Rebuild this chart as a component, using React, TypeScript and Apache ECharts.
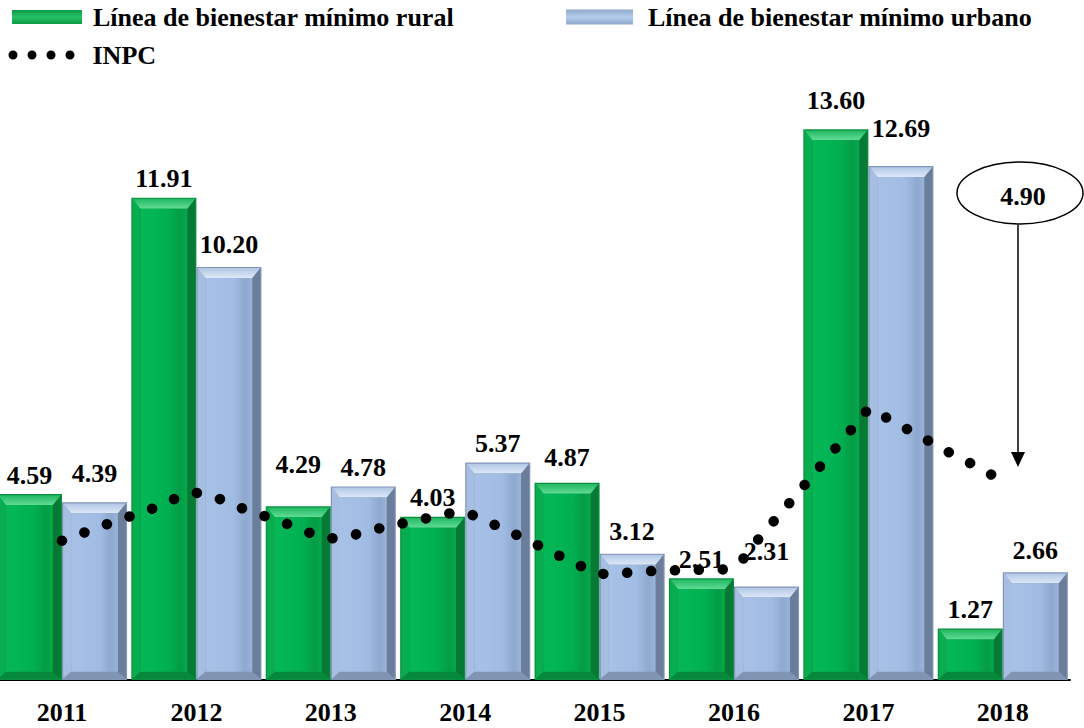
import React, { useEffect, useRef } from 'react';
import * as echarts from 'echarts';

// ---------- data ----------
const years = ['2011', '2012', '2013', '2014', '2015', '2016', '2017', '2018'];
const rural = [4.59, 11.91, 4.29, 4.03, 4.87, 2.51, 13.6, 1.27];
const urbano = [4.39, 10.2, 4.78, 5.37, 3.12, 2.31, 12.69, 2.66];
// INPC curve: time (fractional year) and value
const inpcTime = [
  2011.0, 2011.33, 2011.67, 2012.0, 2012.34, 2012.67, 2013.01, 2013.37, 2013.71, 2013.96,
  2014.22, 2014.54, 2014.87, 2015.03, 2015.39, 2015.74, 2015.92, 2016.07, 2016.18, 2016.41,
  2016.64, 2016.87, 2016.98, 2017.06, 2017.14, 2017.29, 2017.45, 2017.6, 2017.76, 2017.92,
];
const inpcValue = [
  3.44, 3.84, 4.23, 4.62, 4.24, 3.86, 3.5, 3.75, 3.99, 4.14,
  3.83, 3.33, 2.8, 2.62, 2.69, 2.72, 2.73, 3.0, 3.47, 4.36,
  5.27, 6.17, 6.62, 6.69, 6.46, 6.19, 5.9, 5.62, 5.35, 5.06,
];
const inpcLatest = '4.90';
const names = {
  rural: 'Línea de bienestar mínimo rural',
  urbano: 'Línea de bienestar mínimo urbano',
  inpc: 'INPC',
};

// ---------- styles ----------
const SHIFT = 6; // container is shifted left so the first bar is cut by the page edge
const FONT = '"Liberation Serif", "Times New Roman", serif';
const LABEL_FONT = `bold 26px ${FONT}`;
const labelLift: Record<string, Record<number, number>> = {
  rural: { 2: 23, 4: 6, 6: 10 },
  urbano: { 0: 10, 1: 3, 4: 3, 5: 16, 6: 19, 7: 3 },
};

const G = echarts.graphic;
const greenPal = {
  edge: '#0a8f40',
  top: new G.LinearGradient(0, 0, 0, 1, [
    { offset: 0, color: '#22b862' },
    { offset: 1, color: '#62dc96' },
  ]),
  left: '#07ad4e',
  right: '#067a35',
  bottom: '#07893c',
  face: new G.LinearGradient(0, 0, 1, 0, [
    { offset: 0, color: '#05b857' },
    { offset: 0.6, color: '#00b050' },
    { offset: 0.85, color: '#049c46' },
    { offset: 1, color: '#05a84b' },
  ]),
};
const bluePal = {
  edge: '#8196b6',
  top: new G.LinearGradient(0, 0, 0, 1, [
    { offset: 0, color: '#b2c7e6' },
    { offset: 1, color: '#dde8f7' },
  ]),
  left: '#a6bee2',
  right: '#6a7d9a',
  bottom: '#8195b3',
  face: new G.LinearGradient(0, 0, 1, 0, [
    { offset: 0, color: '#a7c1e6' },
    { offset: 0.6, color: '#a1bce3' },
    { offset: 0.85, color: '#8fa8cd' },
    { offset: 1, color: '#9ab3da' },
  ]),
};

function bevelRender(side: number, pal: any, key: string) {
  return function (params: any, api: any) {
    const i = api.value(0);
    const v = api.value(1);
    const base = api.coord([i, 0]);
    const topPt = api.coord([i, v]);
    const band = api.size([1, 0])[0];
    const w = band * 0.484;
    const x0 = side < 0 ? base[0] - w : base[0];
    const x1 = x0 + w;
    const y0 = topPt[1];
    const y1 = base[1];
    const h = y1 - y0;
    const e = 1.2;
    const b = 8;
    const bt = Math.min(11, h * 0.35);
    const bb = Math.min(7, h * 0.2);
    const ax = x0 + e, bx = x1 - e, ay = y0 + e, by = y1 - e;
    const ix0 = ax + b, ix1 = bx - b, iy0 = y0 + bt, iy1 = by - bb;
    const lift = (labelLift[key] && labelLift[key][i]) || 0;
    return {
      type: 'group',
      children: [
        { type: 'rect', shape: { x: x0, y: y0, width: w, height: h }, style: { fill: pal.edge } },
        { type: 'polygon', shape: { points: [[ax, ay], [ix0, iy0], [ix0, iy1], [ax, by]] }, style: { fill: pal.left } },
        { type: 'polygon', shape: { points: [[bx, ay], [bx, by], [ix1, iy1], [ix1, iy0]] }, style: { fill: pal.right } },
        { type: 'polygon', shape: { points: [[ax, by], [bx, by], [ix1, iy1], [ix0, iy1]] }, style: { fill: pal.bottom } },
        { type: 'polygon', shape: { points: [[ax, ay], [bx, ay], [ix1, iy0], [ix0, iy0]] }, style: { fill: pal.top } },
        { type: 'rect', shape: { x: ix0, y: iy0, width: ix1 - ix0, height: Math.max(0, iy1 - iy0) }, style: { fill: pal.face } },
        {
          type: 'text',
          x: (x0 + x1) / 2,
          y: y0 - 10 - lift - 9,
          style: {
            text: Number(v).toFixed(2),
            font: LABEL_FONT,
            fill: '#000',
            align: 'center',
            verticalAlign: 'middle',
          },
        },
      ],
    };
  };
}

const dotsIcon =
  'path://' +
  [0, 19, 38, 57]
    .map((x) => `M${x},4.5a4.5,4.5 0 1,0 9,0a4.5,4.5 0 1,0 -9,0z`)
    .join(' ');

const legendText = {
  fontFamily: FONT,
  fontWeight: 'bold' as const,
  fontSize: 26,
  color: '#000',
};

function buildOption(): any {
  return {
    animation: false,
    backgroundColor: '#fff',
    grid: { left: 0.8, right: 14, top: 32, bottom: 48, containLabel: false },
    legend: [
      {
        data: [names.rural],
        left: 12 + SHIFT,
        top: 4,
        padding: 0,
        selectedMode: false,
        icon: 'rect',
        itemWidth: 70,
        itemHeight: 14,
        itemStyle: {
          borderWidth: 0,
          color: new G.LinearGradient(0, 0, 0, 1, [
            { offset: 0, color: '#0b9a47' },
            { offset: 0.5, color: '#27c266' },
            { offset: 1, color: '#0b9a47' },
          ]),
        },
        textStyle: { ...legendText, padding: [0, 0, 0, 6] },
      },
      {
        data: [names.urbano],
        left: 566 + SHIFT,
        top: 4,
        padding: 0,
        selectedMode: false,
        icon: 'rect',
        itemWidth: 67,
        itemHeight: 15,
        itemStyle: {
          borderWidth: 0,
          color: new G.LinearGradient(0, 0, 0, 1, [
            { offset: 0, color: '#8ea8cc' },
            { offset: 0.5, color: '#b6cdeb' },
            { offset: 1, color: '#8ea8cc' },
          ]),
        },
        textStyle: { ...legendText, padding: [0, 0, 0, 10] },
      },
      {
        data: [names.inpc],
        left: 8.5 + SHIFT,
        top: 42,
        padding: 0,
        selectedMode: false,
        icon: dotsIcon,
        itemWidth: 66,
        itemHeight: 9,
        itemStyle: { color: '#000', borderWidth: 0 },
        textStyle: { ...legendText, padding: [0, 0, 0, 13] },
      },
    ],
    xAxis: [
      {
        type: 'category',
        data: years,
        axisTick: { show: false },
        axisLine: { show: true, lineStyle: { color: '#000', width: 2 } },
        axisLabel: {
          color: '#000',
          fontFamily: FONT,
          fontWeight: 'bold',
          fontSize: 26,
          margin: 19,
        },
        splitLine: { show: false },
      },
      { type: 'value', min: 2010.5, max: 2018.5, show: false },
    ],
    yAxis: { type: 'value', min: 0, max: 16, show: false, splitLine: { show: false } },
    series: [
      {
        name: names.rural,
        type: 'custom',
        xAxisIndex: 0,
        itemStyle: { color: '#00b050' },
        renderItem: bevelRender(-1, greenPal, 'rural'),
        encode: { x: 0, y: 1 },
        data: rural.map((v, i) => [i, v]),
        z: 2,
      },
      {
        name: names.urbano,
        type: 'custom',
        xAxisIndex: 0,
        itemStyle: { color: '#a2bde3' },
        renderItem: bevelRender(1, bluePal, 'urbano'),
        encode: { x: 0, y: 1 },
        data: urbano.map((v, i) => [i, v]),
        z: 2,
      },
      {
        name: names.inpc,
        type: 'line',
        xAxisIndex: 1,
        data: inpcTime.map((t, i) => [t, inpcValue[i]]),
        smooth: 0.3,
        showSymbol: false,
        symbol: 'none',
        color: '#000',
        lineStyle: { color: '#000', width: 10.5, type: [0.1, 23.8], cap: 'round' },
        z: 5,
        silent: true,
      },
    ],
    graphic: [
      {
        type: 'ellipse',
        shape: { cx: 1020 + SHIFT, cy: 193, rx: 63, ry: 31 },
        style: { fill: '#fff', stroke: '#000', lineWidth: 1.5 },
        z: 10,
      },
      {
        type: 'text',
        x: 1023 + SHIFT,
        y: 196,
        style: {
          text: inpcLatest,
          font: LABEL_FONT,
          fill: '#000',
          align: 'center',
          verticalAlign: 'middle',
          textAlign: 'center',
          textVerticalAlign: 'middle',
        },
        z: 11,
      },
      {
        type: 'line',
        shape: { x1: 1018 + SHIFT, y1: 225, x2: 1018 + SHIFT, y2: 455 },
        style: { stroke: '#000', lineWidth: 1.5 },
        z: 10,
      },
      {
        type: 'polygon',
        shape: { points: [[1011 + SHIFT, 452], [1025 + SHIFT, 452], [1018 + SHIFT, 467]] },
        style: { fill: '#000' },
        z: 10,
      },
    ],
  };
}

export default function App() {
  const ref = useRef<HTMLDivElement>(null);
  useEffect(() => {
    if (!ref.current) return;
    const chart = echarts.init(ref.current, null, { renderer: 'svg' });
    chart.setOption(buildOption());
    return () => chart.dispose();
  }, []);
  return (
    <div
      ref={ref}
      style={{ position: 'absolute', left: -SHIFT, top: 0, width: 1084 + SHIFT, height: 728, background: '#fff' }}
    />
  );
}
